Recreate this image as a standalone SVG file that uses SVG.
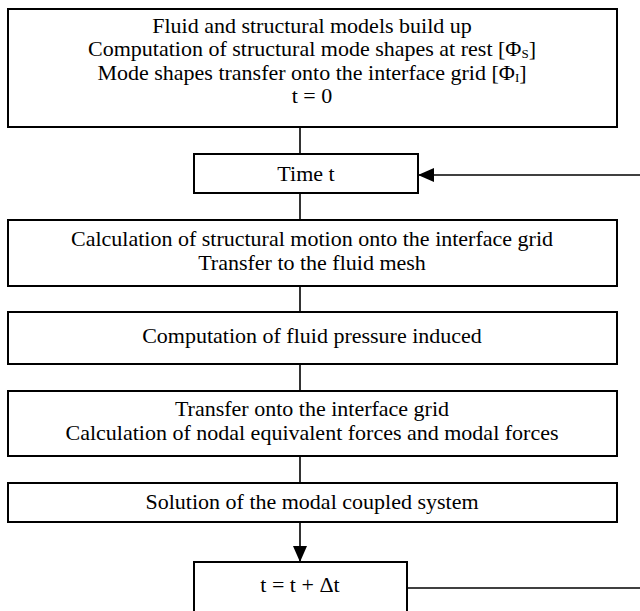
<svg xmlns="http://www.w3.org/2000/svg" width="640" height="611" viewBox="0 0 640 611">
  <defs>
    <style>
      .box { fill: #ffffff; stroke: #000000; stroke-width: 2; }
      .lbl { font-family: "Liberation Serif", "Times New Roman", serif; font-size: 22px; fill: #000000; text-anchor: middle; }
      .sub { font-size: 13px; }
      .wire { fill: none; stroke: #000000; stroke-width: 1.6; }
    </style>
    <marker id="head" viewBox="0 0 16 14" refX="16" refY="7" markerWidth="16" markerHeight="14" markerUnits="userSpaceOnUse" orient="auto">
      <path d="M0,0 L16,7 L0,14 Z" fill="#000000"/>
    </marker>
  </defs>
  <rect width="640" height="611" fill="#ffffff"/>

  <g id="connectors">
    <line class="wire" x1="300" y1="127" x2="300" y2="154"/>
    <line class="wire" x1="300" y1="193" x2="300" y2="220"/>
    <line class="wire" x1="300" y1="286" x2="300" y2="312"/>
    <line class="wire" x1="300" y1="364" x2="300" y2="391"/>
    <line class="wire" x1="300" y1="456" x2="300" y2="483"/>
    <line class="wire" x1="300" y1="522" x2="300" y2="562" marker-end="url(#head)"/>
    <line class="wire" x1="407" y1="588" x2="640" y2="588"/>
    <line class="wire" x1="640" y1="175" x2="418" y2="175" marker-end="url(#head)"/>
  </g>

  <g id="init">
    <rect class="box" x="8" y="9" width="609" height="118"/>
    <text class="lbl" x="312" y="33">Fluid and structural models build up</text>
    <text class="lbl" x="312" y="56">Computation of structural mode shapes at rest [Φ<tspan class="sub" dy="2">S</tspan><tspan dy="-2">]</tspan></text>
    <text class="lbl" x="312" y="80">Mode shapes transfer onto the interface grid [Φ<tspan class="sub" dy="2">I</tspan><tspan dy="-2">]</tspan></text>
    <text class="lbl" x="312" y="103">t = 0</text>
  </g>

  <g id="time">
    <rect class="box" x="194" y="154" width="224" height="39"/>
    <text class="lbl" x="306" y="181">Time t</text>
  </g>

  <g id="motion">
    <rect class="box" x="8" y="220" width="609" height="66"/>
    <text class="lbl" x="312" y="246">Calculation of structural motion onto the interface grid</text>
    <text class="lbl" x="312" y="270">Transfer to the fluid mesh</text>
  </g>

  <g id="pressure">
    <rect class="box" x="8" y="312" width="609" height="52"/>
    <text class="lbl" x="312" y="343">Computation of fluid pressure induced</text>
  </g>

  <g id="forces">
    <rect class="box" x="8" y="391" width="609" height="65"/>
    <text class="lbl" x="312" y="416">Transfer onto the interface grid</text>
    <text class="lbl" x="312" y="440">Calculation of nodal equivalent forces and modal forces</text>
  </g>

  <g id="solve">
    <rect class="box" x="8" y="483" width="609" height="39"/>
    <text class="lbl" x="312" y="509">Solution of the modal coupled system</text>
  </g>

  <g id="step">
    <rect class="box" x="194" y="562" width="213" height="60"/>
    <text class="lbl" x="300" y="592">t = t + Δt</text>
  </g>
</svg>
